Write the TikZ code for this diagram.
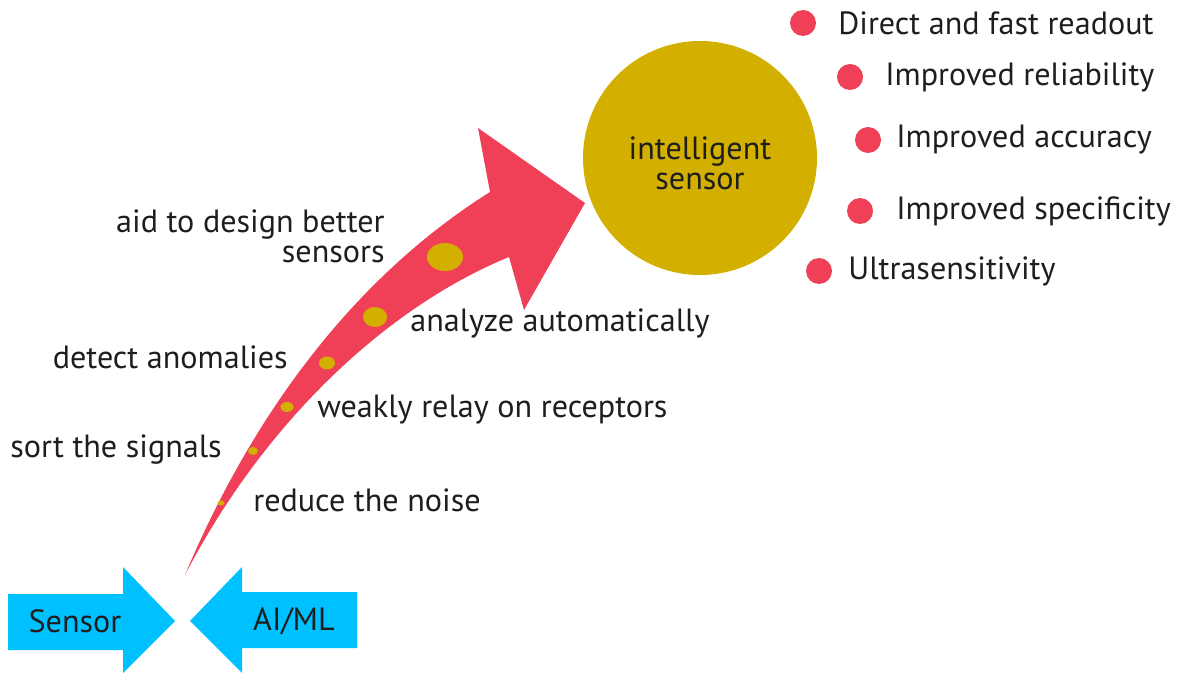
\documentclass[tikz,border=0pt]{standalone}
\usepackage{fontspec}
\setsansfont{PT Sans}
\renewcommand{\familydefault}{\sfdefault}
\usetikzlibrary{positioning}

\definecolor{arrowred}{HTML}{EF4058}
\definecolor{gold}{HTML}{D3B000}
\definecolor{skyblue}{HTML}{00C1FF}
\definecolor{inkgray}{HTML}{1E1E1E}

\begin{document}
\begin{tikzpicture}[x=0.02cm, y=-0.02cm,
    txt/.style={font=\fontsize{18.3}{17}\selectfont, text=inkgray, inner sep=0pt},
    bullet/.style={circle, fill=arrowred, minimum size=0.52cm, inner sep=0pt}]
  \useasboundingbox (0,0) rectangle (1177,675);

  % the big curved arrow, thin at the tail
  \fill[arrowred] (185,575) .. controls (250,420) and (350,280) .. (490,192)
    -- (478,128) -- (585,203) -- (524,310) -- (509,257)
    .. controls (380,310) and (260,430) .. cycle;
  \foreach \x/\y/\rx/\ry in {445/257/18/14, 375/317/12/10, 327/363/8/6.5,
                             287/407/6.5/5, 253/451/5/4, 221/503/3.5/2.5} { %dots growing along the arrow
    \fill[gold] (\x,\y) ellipse [x radius=\rx, y radius=\ry];
  }

  % the sensor at the end
  \fill[gold] (700,158) circle [radius=117];
  \node[txt, align=center] (smart) at (700,163) {intelligent\\sensor};

  % what it brings
  \foreach \i/\x/\y/\tx/\t in {1/803/23/838/Direct and fast readout,
                               2/850/77/885/Improved reliability,
                               3/868/140/896/Improved accuracy,
                               4/860/211/896/Improved specificity,
                               5/819/271/848/Ultrasensitivity} { %one bullet per benefit
    \node[bullet] (dot\i) at (\x,\y) {};
    \node[txt, anchor=west] (gain\i) at (\tx,\y) {\t};
  }

  % steps along the arrow
  \node[txt, align=right, anchor=east] (design) at (385,236) {aid to design better\\sensors};
  \node[txt, anchor=west] (analyze) at (410,323) {analyze automatically};
  \node[txt, anchor=east] (detect) at (288,357) {detect anomalies};
  \node[txt, anchor=west] (relay) at (317,410) {weakly relay on receptors};
  \node[txt, anchor=west] (sort) at (10,450) {sort the signals};
  \node[txt, anchor=west] (noise) at (253,500) {reduce the noise};

  % the two inputs meeting
  \fill[skyblue] (8,594) -- (123,594) -- (123,567) -- (175,621)
    -- (123,673) -- (123,650) -- (8,650) -- cycle;
  \node[txt] (sensor) at (75,621) {Sensor};
  \fill[skyblue] (357,592) -- (242,592) -- (242,567) -- (190,621)
    -- (242,673) -- (242,648) -- (357,648) -- cycle;
  \node[txt] (aiml) at (294,621) {AI/ML};
\end{tikzpicture}
\end{document}
